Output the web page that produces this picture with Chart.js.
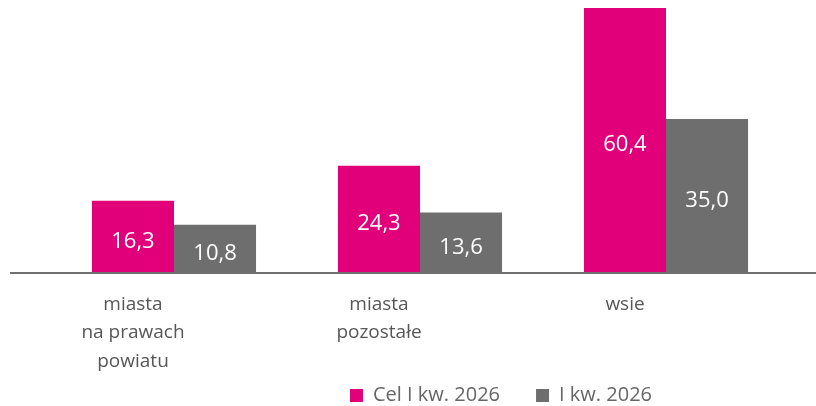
<!DOCTYPE html>
<html>
<head>
<meta charset="utf-8">
<script src="https://cdn.jsdelivr.net/npm/chart.js@4/dist/chart.umd.min.js"></script>
<style>
  html, body { margin: 0; padding: 0; background: #ffffff; }
  #wrap { width: 816px; height: 406px; position: relative; }
</style>
</head>
<body>
<div id="wrap"><canvas id="c" width="816" height="406"></canvas></div>
<script>
const categories = [['miasta', 'na prawach', 'powiatu'], ['miasta', 'pozostałe'], ['wsie']];
const seriesNames = ['Cel I kw. 2026', 'I kw. 2026'];
const targetValues = [16.3, 24.3, 60.4];
const actualValues = [10.8, 13.6, 35.0];

const PINK = '#E2007A';
const GREY = '#6E6E6E';
const FONT = "'Open Sans', 'Noto Sans', sans-serif";

const valueLabels = {
  id: 'valueLabels',
  afterDatasetsDraw(chart) {
    const ctx = chart.ctx;
    ctx.save();
    ctx.font = '500 22px ' + FONT;
    ctx.fillStyle = '#ffffff';
    ctx.textAlign = 'center';
    ctx.textBaseline = 'middle';
    chart.data.datasets.forEach((ds, i) => {
      const meta = chart.getDatasetMeta(i);
      meta.data.forEach((el, j) => {
        const v = ds.data[j];
        const txt = v.toFixed(1).replace('.', ',');
        ctx.fillText(txt, el.x, (el.y + el.base) / 2 + 5);
      });
    });
    ctx.restore();
  }
};

const baseLine = {
  id: 'baseLine',
  afterDatasetsDraw(chart) {
    const ctx = chart.ctx;
    const y = chart.scales.y.getPixelForValue(0) + 1;
    ctx.save();
    ctx.strokeStyle = '#6F6F6F';
    ctx.lineWidth = 2;
    ctx.beginPath();
    ctx.moveTo(10, y);
    ctx.lineTo(chart.width, y);
    ctx.stroke();
    ctx.restore();
  }
};

const legendShift = {
  id: 'legendShift',
  afterUpdate(chart) {
    const lg = chart.legend;
    if (!lg) return;
    const dx = 81, dy = -28.5;
    lg.left += dx; lg.right += dx;
    lg.top += dy; lg.bottom += dy;
  }
};

new Chart(document.getElementById('c'), {
  type: 'bar',
  data: {
    labels: categories,
    datasets: [
      { label: seriesNames[0], data: targetValues, backgroundColor: PINK, borderWidth: 0 },
      { label: seriesNames[1], data: actualValues, backgroundColor: GREY, borderWidth: 0 }
    ]
  },
  options: {
    responsive: false,
    animation: false,
    layout: { padding: { top: 1, left: 51, right: 27, bottom: -38 } },
    datasets: { bar: { categoryPercentage: 0.667, barPercentage: 1.0 } },
    scales: {
      x: {
        grid: { display: false, drawTicks: false },
        border: { display: false },
        ticks: {
          color: '#575757',
          font: { family: FONT, size: 19, lineHeight: 1.5 },
          padding: 18,
          labelOffset: -41,
          maxRotation: 0,
          autoSkip: false
        },
        afterFit(scale) { scale.height = 106; }
      },
      y: {
        display: false,
        min: 0,
        max: 62
      }
    },
    plugins: {
      legend: {
        position: 'bottom',
        labels: {
          boxWidth: 13,
          boxHeight: 13,
          padding: 36,
          color: '#666666',
          font: { family: FONT, size: 20 }
        }
      },
      tooltip: { enabled: false }
    }
  },
  plugins: [valueLabels, baseLine, legendShift]
});
</script>
</body>
</html>
